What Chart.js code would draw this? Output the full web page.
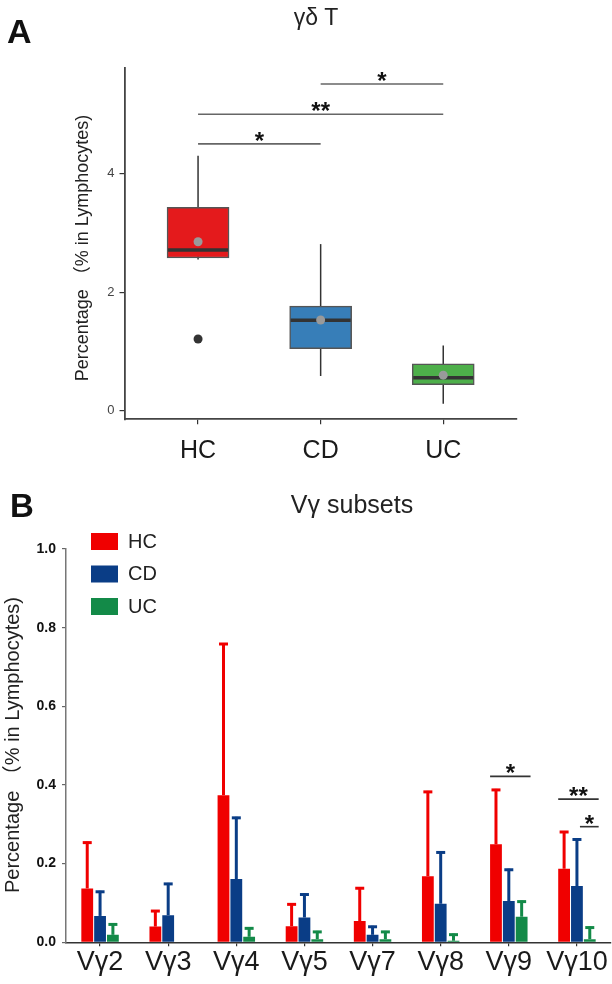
<!DOCTYPE html>
<html lang="en">
<head>
<meta charset="UTF-8">
<title>γδ T and Vγ subsets</title>
<script src="https://cdn.jsdelivr.net/npm/chart.js"></script>
<style>
  body { margin: 0; background: #fff; }
  .wrap { position: relative; width: 612px; height: 984px; }
  #chartA { position: absolute; left: 0; top: 0; }
  #chartB { position: absolute; left: 0; top: 470px; }
</style>
</head>
<body>
<div class="wrap">
  <canvas id="chartA" width="612" height="470"></canvas>
  <canvas id="chartB" width="612" height="514"></canvas>
</div>
<script>
// ---- Panel A: gamma-delta T box plot ----
const groupsA = ['HC', 'CD', 'UC'];
const boxQ1 = [2.575, 1.046, 0.44];
const boxQ3 = [3.43, 1.765, 0.79];
const boxMedian = [2.71, 1.524, 0.556];
const boxMean = [2.85, 1.53, 0.60];
const whiskerLow = [2.55, 0.585, 0.118];
const whiskerHigh = [4.30, 2.81, 1.10];
const outliersA = [[1.21], [], []];
const boxColors = ['#e41a1c', '#377eb8', '#4daf4a'];
const yTicksA = [0, 2, 4];
// brackets between groups (index), at a y value
const sigA = [
  { from: 1, to: 2, y: 5.51, label: '*' },
  { from: 0, to: 2, y: 5.0, label: '**' },
  { from: 0, to: 1, y: 4.5, label: '*' }
];

// ---- Panel B: Vgamma subsets, mean + SD ----
const subsets = ['Vγ2', 'Vγ3', 'Vγ4', 'Vγ5', 'Vγ7', 'Vγ8', 'Vγ9', 'Vγ10'];
const hcMean = [0.137, 0.040, 0.374, 0.041, 0.054, 0.168, 0.249, 0.187];
const hcSD   = [0.119, 0.042, 0.387, 0.058, 0.086, 0.217, 0.141, 0.096];
const cdMean = [0.067, 0.069, 0.161, 0.063, 0.019, 0.098, 0.105, 0.143];
const cdSD   = [0.064, 0.082, 0.158, 0.061, 0.023, 0.133, 0.082, 0.121];
const ucMean = [0.019, null, 0.014, 0.008, 0.008, 0.004, 0.065, 0.008];
const ucSD   = [0.029, null, 0.024, 0.021, 0.021, 0.018, 0.041, 0.032];
const yTicksB = [0, 0.2, 0.4, 0.6, 0.8, 1.0];
// brackets inside one subset, between series (0 HC, 1 CD, 2 UC)
const sigB = [
  { cat: 6, from: 0, to: 2, y: 0.422, label: '*' },
  { cat: 7, from: 0, to: 2, y: 0.364, label: '**' },
  { cat: 7, from: 1, to: 2, y: 0.294, label: '*' }
];

const FAM = "'Liberation Sans', Arial, 'Noto Sans CJK SC', sans-serif";
const YTITLE = 'Percentage （% in Lymphocytes)';

function rotatedText(ctx, text, x, y, font) {
  ctx.save();
  ctx.translate(x, y);
  ctx.rotate(-Math.PI / 2);
  ctx.font = font;
  ctx.fillStyle = '#222';
  ctx.textAlign = 'center';
  ctx.textBaseline = 'middle';
  ctx.fillText(text, 0, 0);
  ctx.restore();
}

function bracket(ctx, x1, x2, y, label, color) {
  ctx.save();
  ctx.strokeStyle = color;
  ctx.lineWidth = 1.6;
  ctx.beginPath();
  ctx.moveTo(x1, y);
  ctx.lineTo(x2, y);
  ctx.stroke();
  ctx.font = 'bold 24px ' + FAM;
  ctx.fillStyle = '#111';
  ctx.textAlign = 'center';
  ctx.textBaseline = 'alphabetic';
  ctx.fillText(label, (x1 + x2) / 2, y + 5);
  ctx.restore();
}

const boxExtras = {
  id: 'boxExtras',
  beforeDatasetsDraw(chart) {
    const { ctx, scales: { x, y } } = chart;
    ctx.save();
    ctx.strokeStyle = '#333';
    ctx.lineWidth = 1.5;
    groupsA.forEach((g, i) => {
      const px = x.getPixelForValue(i + 1);
      ctx.beginPath();
      ctx.moveTo(px, y.getPixelForValue(whiskerLow[i]));
      ctx.lineTo(px, y.getPixelForValue(whiskerHigh[i]));
      ctx.stroke();
    });
    ctx.restore();
  },
  afterDatasetDraw(chart, args) {
    if (args.index !== 0) return;
    const { ctx, scales: { y } } = chart;
    const bars = chart.getDatasetMeta(0).data;
    ctx.save();
    ctx.strokeStyle = '#333';
    ctx.lineWidth = 3.5;
    bars.forEach((b, i) => {
      const py = y.getPixelForValue(boxMedian[i]);
      ctx.beginPath();
      ctx.moveTo(b.x - b.width / 2 + 1, py);
      ctx.lineTo(b.x + b.width / 2 - 1, py);
      ctx.stroke();
    });
    ctx.restore();
  },
  afterDraw(chart) {
    const { ctx, scales: { x, y } } = chart;
    sigA.forEach(s => {
      bracket(ctx, x.getPixelForValue(s.from + 1), x.getPixelForValue(s.to + 1),
        y.getPixelForValue(s.y), s.label, '#666');
    });
    ctx.save();
    ctx.fillStyle = '#111';
    ctx.font = 'bold 34px ' + FAM;
    ctx.textAlign = 'left';
    ctx.fillText('A', 7, 43);
    ctx.font = '23px ' + FAM;
    ctx.fillStyle = '#222';
    ctx.textAlign = 'center';
    ctx.fillText('γδ T', 316, 25);
    ctx.restore();
    rotatedText(ctx, YTITLE, 83, 248, '18px ' + FAM);
  }
};

new Chart(document.getElementById('chartA'), {
  type: 'bar',
  data: {
    datasets: [
      {
        label: 'box',
        data: groupsA.map((g, i) => ({ x: i + 1, y: [boxQ1[i], boxQ3[i]] })),
        backgroundColor: boxColors,
        borderColor: '#555',
        borderWidth: 1.5,
        borderSkipped: false,
        barThickness: 62,
        grouped: false,
        order: 2
      },
      {
        type: 'scatter',
        label: 'mean',
        data: boxMean.map((v, i) => ({ x: i + 1, y: v })),
        pointRadius: 4.5,
        pointBackgroundColor: '#9a9a9a',
        pointBorderWidth: 0,
        order: 1
      },
      {
        type: 'scatter',
        label: 'outlier',
        data: outliersA.flatMap((arr, i) => arr.map(v => ({ x: i + 1, y: v }))),
        pointRadius: 4.5,
        pointBackgroundColor: '#333',
        pointBorderWidth: 0,
        order: 1
      }
    ]
  },
  options: {
    responsive: false,
    animation: false,
    layout: { padding: { top: 68, right: 95.2, left: 0, bottom: 0 } },
    plugins: { legend: { display: false }, tooltip: { enabled: false } },
    scales: {
      x: {
        type: 'linear',
        min: 0.4,
        max: 3.6,
        offset: false,
        afterBuildTicks: s => { s.ticks = groupsA.map((g, i) => ({ value: i + 1 })); },
        ticks: {
          callback: v => groupsA[v - 1],
          font: { size: 25, family: FAM },
          color: '#1a1a1a',
          padding: 12,
          autoSkip: false,
          maxRotation: 0
        },
        grid: { offset: false, drawOnChartArea: false, tickLength: 5, color: '#333', lineWidth: 1.2 },
        border: { display: true, color: '#444', width: 1.8 },
        afterFit: s => { s.height = 50.7; }
      },
      y: {
        min: -0.145,
        max: 5.78,
        afterBuildTicks: s => { s.ticks = yTicksA.map(v => ({ value: v })); },
        ticks: { font: { size: 13, family: FAM }, color: '#444', padding: 5 },
        grid: { drawOnChartArea: false, tickLength: 5, color: '#333', lineWidth: 1.2 },
        border: { display: true, color: '#444', width: 1.8 },
        afterFit: s => { s.width = 124.5; }
      }
    }
  },
  plugins: [boxExtras]
});

// ---- Panel B chart ----
const barExtras = {
  id: 'barExtras',
  afterDatasetsDraw(chart) {
    const { ctx, scales: { y } } = chart;
    ctx.save();
    chart.data.datasets.forEach((ds, di) => {
      const meta = chart.getDatasetMeta(di);
      ctx.strokeStyle = ds.backgroundColor;
      ctx.lineWidth = 3;
      meta.data.forEach((b, j) => {
        const v = ds.data[j];
        const sd = ds.sd[j];
        if (v == null || sd == null) return;
        const top = y.getPixelForValue(v + sd);
        ctx.beginPath();
        ctx.moveTo(b.x, b.y);
        ctx.lineTo(b.x, top);
        ctx.stroke();
        ctx.beginPath();
        ctx.moveTo(b.x - 4.5, top + 1);
        ctx.lineTo(b.x + 4.5, top + 1);
        ctx.stroke();
      });
    });
    ctx.restore();
  },
  afterDraw(chart) {
    const { ctx, scales: { y } } = chart;
    sigB.forEach(s => {
      const a = chart.getDatasetMeta(s.from).data[s.cat];
      const b = chart.getDatasetMeta(s.to).data[s.cat];
      const x1 = s.from === 0 ? a.x - a.width / 2 : a.x + 3;
      const x2 = b.x + b.width / 2 + 3;
      bracket(ctx, x1, x2, y.getPixelForValue(s.y), s.label, '#333');
    });
    // legend
    ctx.save();
    chart.data.datasets.forEach((ds, i) => {
      const top = 63 + i * 32.5;
      ctx.fillStyle = ds.backgroundColor;
      ctx.fillRect(91, top, 27, 17);
      ctx.fillStyle = '#222';
      ctx.font = '20px ' + FAM;
      ctx.textAlign = 'left';
      ctx.textBaseline = 'middle';
      ctx.fillText(ds.label, 128, top + 9);
    });
    ctx.textBaseline = 'alphabetic';
    ctx.fillStyle = '#111';
    ctx.font = 'bold 33px ' + FAM;
    ctx.fillText('B', 10, 47);
    ctx.fillStyle = '#222';
    ctx.font = '25px ' + FAM;
    ctx.textAlign = 'center';
    ctx.fillText('Vγ subsets', 352, 43);
    ctx.restore();
    rotatedText(ctx, YTITLE, 13, 275, '20px ' + FAM);
  }
};

const barLook = { categoryPercentage: 0.565, barPercentage: 0.92, borderWidth: 0 };

new Chart(document.getElementById('chartB'), {
  type: 'bar',
  data: {
    labels: subsets,
    datasets: [
      { label: 'HC', data: hcMean, sd: hcSD, backgroundColor: '#f00000', ...barLook },
      { label: 'CD', data: cdMean, sd: cdSD, backgroundColor: '#0a3d86', ...barLook },
      { label: 'UC', data: ucMean, sd: ucSD, backgroundColor: '#138a48', ...barLook }
    ]
  },
  options: {
    responsive: false,
    animation: false,
    layout: { padding: { top: 79, right: 1, left: 0, bottom: 0 } },
    plugins: { legend: { display: false }, tooltip: { enabled: false } },
    scales: {
      x: {
        offset: true,
        ticks: { font: { size: 27, family: FAM }, color: '#1a1a1a', padding: 0, autoSkip: false, maxRotation: 0 },
        grid: { offset: false, drawOnChartArea: false, tickLength: 4, color: '#333', lineWidth: 1.2 },
        border: { display: true, color: '#333', width: 1.6 },
        afterFit: s => { s.height = 41.7; }
      },
      y: {
        min: 0,
        max: 1,
        afterBuildTicks: s => { s.ticks = yTicksB.map(v => ({ value: v })); },
        ticks: {
          callback: v => v.toFixed(1),
          font: { size: 14, weight: 'bold', family: FAM },
          color: '#111',
          padding: 6
        },
        grid: { drawOnChartArea: false, tickLength: 4, color: '#666', lineWidth: 1.2 },
        border: { display: true, color: '#777', width: 1.5 },
        afterFit: s => { s.width = 66; }
      }
    }
  },
  plugins: [barExtras]
});
</script>
</body>
</html>
